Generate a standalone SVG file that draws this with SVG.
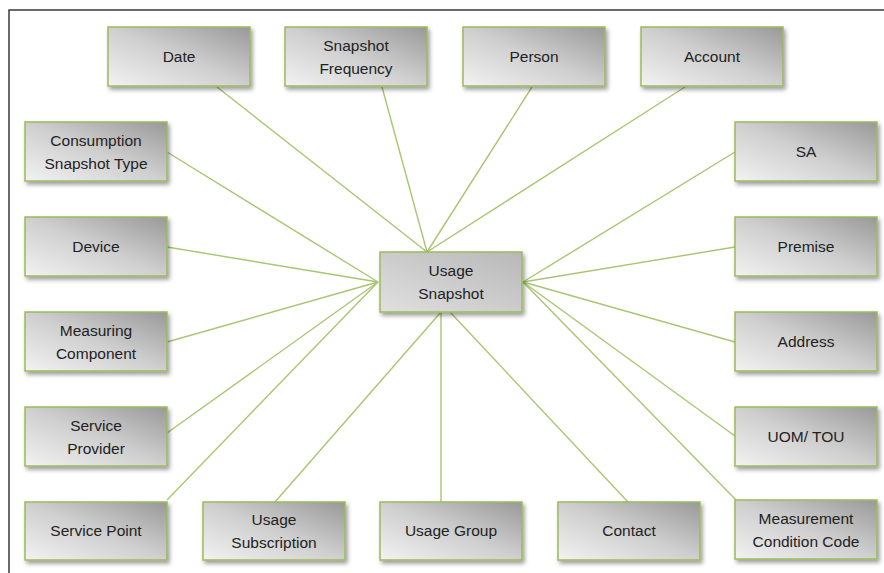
<svg xmlns="http://www.w3.org/2000/svg" width="884" height="573" viewBox="0 0 884 573">
<defs>
<linearGradient id="g" x1="0" y1="1" x2="1" y2="0">
<stop offset="0" stop-color="#f2f2f2"/>
<stop offset="0.5" stop-color="#cfcfcf"/>
<stop offset="1" stop-color="#999"/>
</linearGradient>
<linearGradient id="gc" x1="0" y1="1" x2="1" y2="0">
<stop offset="0" stop-color="#e0e0e0"/>
<stop offset="1" stop-color="#b8b8b8"/>
</linearGradient>
<filter id="sh" x="-10%" y="-10%" width="130%" height="140%">
<feDropShadow dx="2" dy="3" stdDeviation="2" flood-color="#000" flood-opacity="0.38"/>
</filter>
</defs>
<style>
.n rect{fill:url(#g);stroke:#9bbb59;stroke-width:1.5;filter:url(#sh)}
.c rect{fill:url(#gc)}
.n text{font-family:"Liberation Sans",Arial,sans-serif;font-size:15.5px;fill:#222;text-anchor:middle}
#edges line{stroke:#a8c672;stroke-width:1.4}
</style>
<rect x="0" y="0" width="884" height="573" fill="#fff"/>
<rect x="9" y="10" width="900" height="600" fill="none" stroke="#3a3a3a" stroke-width="1.5"/>
<g id="edges">
<line x1="217" y1="87" x2="427" y2="252"/>
<line x1="382" y1="87" x2="427" y2="252"/>
<line x1="532" y1="87" x2="427" y2="252"/>
<line x1="685" y1="87" x2="427" y2="252"/>
<line x1="167" y1="152" x2="378" y2="282"/>
<line x1="167" y1="247" x2="378" y2="282"/>
<line x1="167" y1="342" x2="378" y2="282"/>
<line x1="167" y1="433" x2="378" y2="282"/>
<line x1="167" y1="500" x2="378" y2="282"/>
<line x1="275" y1="502" x2="441" y2="312"/>
<line x1="441" y1="502" x2="441" y2="312"/>
<line x1="628" y1="502" x2="450" y2="312"/>
<line x1="735" y1="152" x2="523" y2="282"/>
<line x1="735" y1="247" x2="523" y2="282"/>
<line x1="735" y1="342" x2="523" y2="282"/>
<line x1="735" y1="436" x2="523" y2="282"/>
<line x1="736" y1="500" x2="523" y2="282"/>
</g>
<g id="date" class="n"><rect x="108" y="27" width="142" height="59"/><text x="179" y="62">Date</text></g>
<g id="snapshot-frequency" class="n"><rect x="285" y="27" width="142" height="59"/><text x="356" y="51">Snapshot</text><text x="356" y="74">Frequency</text></g>
<g id="person" class="n"><rect x="463" y="27" width="142" height="59"/><text x="534" y="62">Person</text></g>
<g id="account" class="n"><rect x="641" y="27" width="142" height="59"/><text x="712" y="62">Account</text></g>
<g id="consumption-snapshot-type" class="n"><rect x="25" y="122" width="142" height="59"/><text x="96" y="146">Consumption</text><text x="96" y="169">Snapshot Type</text></g>
<g id="sa" class="n"><rect x="735" y="122" width="142" height="59"/><text x="806" y="157">SA</text></g>
<g id="device" class="n"><rect x="25" y="217" width="142" height="59"/><text x="96" y="252">Device</text></g>
<g id="premise" class="n"><rect x="735" y="217" width="142" height="59"/><text x="806" y="252">Premise</text></g>
<g id="usage-snapshot" class="n c"><rect x="380" y="252" width="142" height="60"/><text x="451" y="276">Usage</text><text x="451" y="299">Snapshot</text></g>
<g id="measuring-component" class="n"><rect x="25" y="312" width="142" height="59"/><text x="96" y="336">Measuring</text><text x="96" y="359">Component</text></g>
<g id="address" class="n"><rect x="735" y="312" width="142" height="59"/><text x="806" y="347">Address</text></g>
<g id="service-provider" class="n"><rect x="25" y="407" width="142" height="59"/><text x="96" y="431">Service</text><text x="96" y="454">Provider</text></g>
<g id="uom-tou" class="n"><rect x="735" y="407" width="142" height="59"/><text x="806" y="442">UOM/ TOU</text></g>
<g id="service-point" class="n"><rect x="25" y="502" width="142" height="58"/><text x="96" y="536">Service Point</text></g>
<g id="usage-subscription" class="n"><rect x="203" y="502" width="142" height="58"/><text x="274" y="525">Usage</text><text x="274" y="548">Subscription</text></g>
<g id="usage-group" class="n"><rect x="380" y="502" width="142" height="58"/><text x="451" y="536">Usage Group</text></g>
<g id="contact" class="n"><rect x="558" y="502" width="142" height="58"/><text x="629" y="536">Contact</text></g>
<g id="measurement-condition-code" class="n"><rect x="735" y="500" width="142" height="59"/><text x="806" y="524">Measurement</text><text x="806" y="547">Condition Code</text></g>
</svg>
